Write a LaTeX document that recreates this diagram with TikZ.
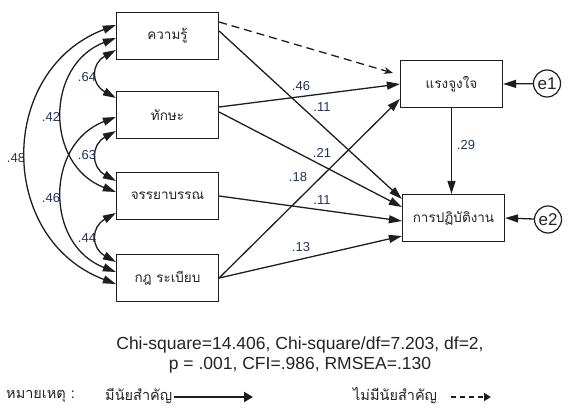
\documentclass[tikz,border=0pt]{standalone}
\usepackage{fontspec}
\setmainfont{Liberation Sans}
\newfontfamily\thaifont[Script=Thai]{Loma}
\usetikzlibrary{arrows.meta,calc}
\definecolor{lblcol}{RGB}{34,52,88}
\definecolor{linecol}{RGB}{30,30,30}
\definecolor{txtcol}{RGB}{35,35,35}
\begin{document}
\begin{tikzpicture}[x=1pt,y=-1pt,
  box/.style={draw=linecol, line width=1.2pt, minimum width=102pt, minimum height=47pt, inner sep=0pt, text=txtcol, font=\thaifont\fontsize{13.5}{15}\selectfont},
  errc/.style={circle, draw=linecol, line width=1.2pt, minimum size=27pt, inner sep=0pt, text=txtcol, font=\fontsize{17}{18}\selectfont},
  conn/.style={draw=linecol, line width=1.3pt, -{Triangle[length=13pt,width=8pt]}},
  cov/.style={draw=linecol, line width=1.3pt, {Triangle[length=13pt,width=8pt]}-{Triangle[length=13pt,width=8pt]}},
  coef/.style={text=lblcol, font=\fontsize{13}{14}\selectfont, inner sep=0pt},
  thaitxt/.style={text=txtcol, font=\thaifont\fontsize{14.5}{16}\selectfont, inner sep=0pt},
]
\useasboundingbox (0,0) rectangle (568,414);

% boxes
\node[box] (k1) at (167.5,36) {ความรู้};
\node[box] (k2) at (167.5,115) {ทักษะ};
\node[box] (k3) at (167.5,196) {จรรยาบรรณ};
\node[box] (k4) at (167.5,278) {กฎ ระเบียบ};
\node[box] (mot) at (451.5,84) {แรงจูงใจ};
\node[box] (perf) at (453.5,218) {การปฏิบัติงาน};
\node[errc] (e1) at (547,83.5) {e1};
\node[errc] (e2) at (548,219.5) {e2};

% covariances
\draw[cov] ([yshift=-14pt]k1.west) .. controls +(-25,14) and +(-25,-14) .. ([yshift=17pt]k2.west);
\draw[cov] ([yshift=-16pt]k2.west) .. controls +(-25,14) and +(-25,-14) .. ([yshift=15pt]k3.west);
\draw[cov] ([yshift=-17pt]k3.west) .. controls +(-25,14) and +(-25,-14) .. ([yshift=16pt]k4.west);
\draw[cov] ([yshift=-2pt]k1.west) .. controls +(-71,27) and +(-71,-27) .. ([yshift=4pt]k3.west);
\draw[cov] ([yshift=-2pt]k2.west) .. controls +(-71,27) and +(-71,-27) .. ([yshift=6pt]k4.west);
\draw[cov] ([yshift=11pt]k1.west) .. controls +(-119,45) and +(-119,-45) .. ([yshift=-6pt]k4.west);

% paths
\draw[draw=linecol, line width=1.3pt, dash pattern=on 8pt off 5pt, -{Stealth[length=9pt,width=7pt]}] ([yshift=14pt]k1.east) -- ([xshift=-7pt,yshift=11pt]mot.west);
\draw[conn] ([yshift=5pt]k1.east) -- ([yshift=19pt]perf.west);
\draw[conn] ([yshift=8pt]k2.east) -- (mot.west);
\draw[conn] ([yshift=3pt]k2.east) -- ([yshift=11pt]perf.west);
\draw[conn] (k3.east) -- ([yshift=-3pt]perf.west);
\draw[conn] (k4.east) -- ([yshift=-15pt]mot.west);
\draw[conn] (k4.east) -- ([yshift=-18pt]perf.west);
\draw[conn] (mot.south) -- (mot.south |- perf.north);
\draw[conn] (e1) -- (mot.east);
\draw[conn] (e2) -- (perf.east);

% coefficients
\node[coef] (c64) at (87,77) {.64};
\node[coef] (c42) at (51,117) {.42};
\node[coef] (c48) at (16,158) {.48};
\node[coef] (c63) at (87,155) {.63};
\node[coef] (c46l) at (51,198) {.46};
\node[coef] (c44) at (87,238) {.44};
\node[coef] (c46) at (301,86) {.46};
\node[coef] (c11a) at (322,107) {.11};
\node[coef] (c21) at (322,153) {.21};
\node[coef] (c18) at (298,177) {.18};
\node[coef] (c11b) at (322,200) {.11};
\node[coef] (c13) at (301,247) {.13};
\node[coef] (c29) at (466,145) {.29};

% fit statistics
\node[align=center, text=txtcol, font=\fontsize{17.5}{20.5}\selectfont] (stats) at (300,355) {Chi-square=14.406, Chi-square/df=7.203, df=2,\\ p = .001, CFI=.986, RMSEA=.130};

% legend
\node[thaitxt, anchor=west] (note) at (6,396) {หมายเหตุ :};
\node[thaitxt, anchor=west] (sig) at (105,396) {มีนัยสำคัญ};
\coordinate (sigend) at (253,397);
\draw[draw=linecol, line width=2.6pt, -{Triangle[length=9pt,width=10pt]}] ([xshift=2pt,yshift=-1pt]sig.east) -- (sigend);
\node[thaitxt, anchor=west] (nsig) at (353,396) {ไม่มีนัยสำคัญ};
\coordinate (nsigend) at (491,397);
\draw[draw=linecol, line width=1.8pt, dash pattern=on 5pt off 4pt, -{Triangle[length=7pt,width=8pt]}] ([xshift=14pt,yshift=-1pt]nsig.east) -- (nsigend);
\end{tikzpicture}
\end{document}
